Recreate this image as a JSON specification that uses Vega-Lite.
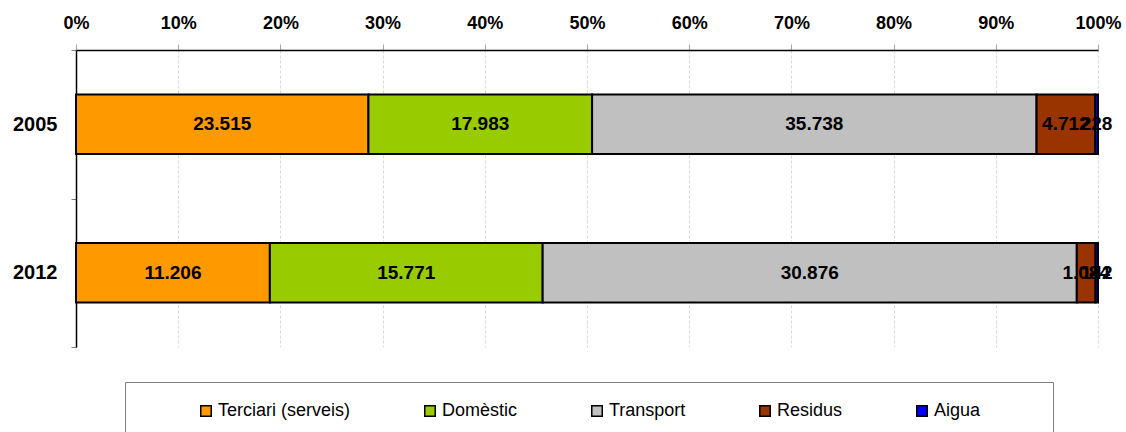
{
  "$schema": "https://vega.github.io/schema/vega-lite/v6.json",
  "width": 1022,
  "height": 297,
  "autosize": "none",
  "padding": {"left": 76, "top": 50, "right": 28, "bottom": 85},
  "background": "white",
  "config": {
    "view": {"stroke": null},
    "font": "Liberation Sans",
    "locale": {
      "number": {"decimal": ",", "thousands": ".", "grouping": [3], "currency": ["", " €"]}
    }
  },
  "data": {
    "values": [
      {"year": "2005", "sector": "Terciari (serveis)", "order": 1, "value": 23515},
      {"year": "2005", "sector": "Domèstic", "order": 2, "value": 17983},
      {"year": "2005", "sector": "Transport", "order": 3, "value": 35738},
      {"year": "2005", "sector": "Residus", "order": 4, "value": 4712},
      {"year": "2005", "sector": "Aigua", "order": 5, "value": 228},
      {"year": "2012", "sector": "Terciari (serveis)", "order": 1, "value": 11206},
      {"year": "2012", "sector": "Domèstic", "order": 2, "value": 15771},
      {"year": "2012", "sector": "Transport", "order": 3, "value": 30876},
      {"year": "2012", "sector": "Residus", "order": 4, "value": 1084},
      {"year": "2012", "sector": "Aigua", "order": 5, "value": 142}
    ]
  },
  "transform": [
    {"stack": "value", "groupby": ["year"], "sort": [{"field": "order", "order": "ascending"}], "as": ["v0", "v1"], "offset": "normalize"},
    {"calculate": "(datum.v0 + datum.v1) / 2", "as": "mid"}
  ],
  "encoding": {
    "y": {
      "field": "year",
      "type": "nominal",
      "sort": ["2005", "2012"],
      "scale": {"paddingInner": 0, "paddingOuter": 0},
      "axis": {
        "title": null,
        "orient": "left",
        "tickBand": "extent",
        "domainColor": "#000000",
        "domainWidth": 1.5,
        "tickColor": "#7f7f7f",
        "tickSize": 5,
        "labelFontSize": 20,
        "labelFontWeight": "bold",
        "labelColor": "#000000",
        "labelPadding": 14,
        "labelFont": "Liberation Sans"
      }
    }
  },
  "layer": [
    {
      "mark": {"type": "bar", "height": {"band": 0.4}, "stroke": "#000000", "strokeWidth": 2},
      "encoding": {
        "x": {
          "field": "v0",
          "type": "quantitative",
          "scale": {"domain": [0, 1], "nice": false},
          "axis": {
            "orient": "top",
            "title": null,
            "values": [0, 0.1, 0.2, 0.3, 0.4, 0.5, 0.6, 0.7, 0.8, 0.9, 1],
            "format": ".0%",
            "labelFontSize": 18,
            "labelFontWeight": "bold",
            "labelColor": "#000000",
            "labelPadding": 12,
            "labelFlush": false,
            "domainColor": "#000000",
            "domainWidth": 1.5,
            "tickColor": "#a6a6a6",
            "tickSize": 6,
            "grid": true,
            "gridColor": "#d9d9d9",
            "gridDash": [3, 2],
            "gridWidth": 1
          }
        },
        "x2": {"field": "v1"},
        "color": {
          "field": "sector",
          "type": "nominal",
          "scale": {
            "domain": ["Terciari (serveis)", "Domèstic", "Transport", "Residus", "Aigua"],
            "range": ["#FF9900", "#99CC00", "#C0C0C0", "#993300", "#0000FF"]
          },
          "legend": {
            "orient": "none",
            "legendX": 49,
            "legendY": 332,
            "direction": "horizontal",
            "columns": 5,
            "title": " ",
            "titleOrient": "left",
            "titleFontSize": 2,
            "titlePadding": 52,
            "padding": 20,
            "strokeColor": "#808080",
            "fillColor": "#ffffff",
            "columnPadding": 70,
            "symbolType": "square",
            "symbolSize": 110,
            "symbolStrokeColor": "#000000",
            "symbolStrokeWidth": 1.5,
            "symbolOpacity": 1,
            "labelFontSize": 18,
            "labelColor": "#000000",
            "labelOffset": 3,
            "labelLimit": 300,
            "labelExpr": "datum.label == 'Aigua' ? datum.label + '\u2800\u2800\u2800\u2800' : datum.label"
          }
        },
        "order": {"field": "order"}
      }
    },
    {
      "mark": {"type": "text", "fontWeight": "bold", "fontSize": 19, "color": "#000000", "align": "center", "baseline": "middle"},
      "encoding": {
        "x": {"field": "mid", "type": "quantitative"},
        "text": {"field": "value", "type": "quantitative", "format": ",d"}
      }
    }
  ]
}
